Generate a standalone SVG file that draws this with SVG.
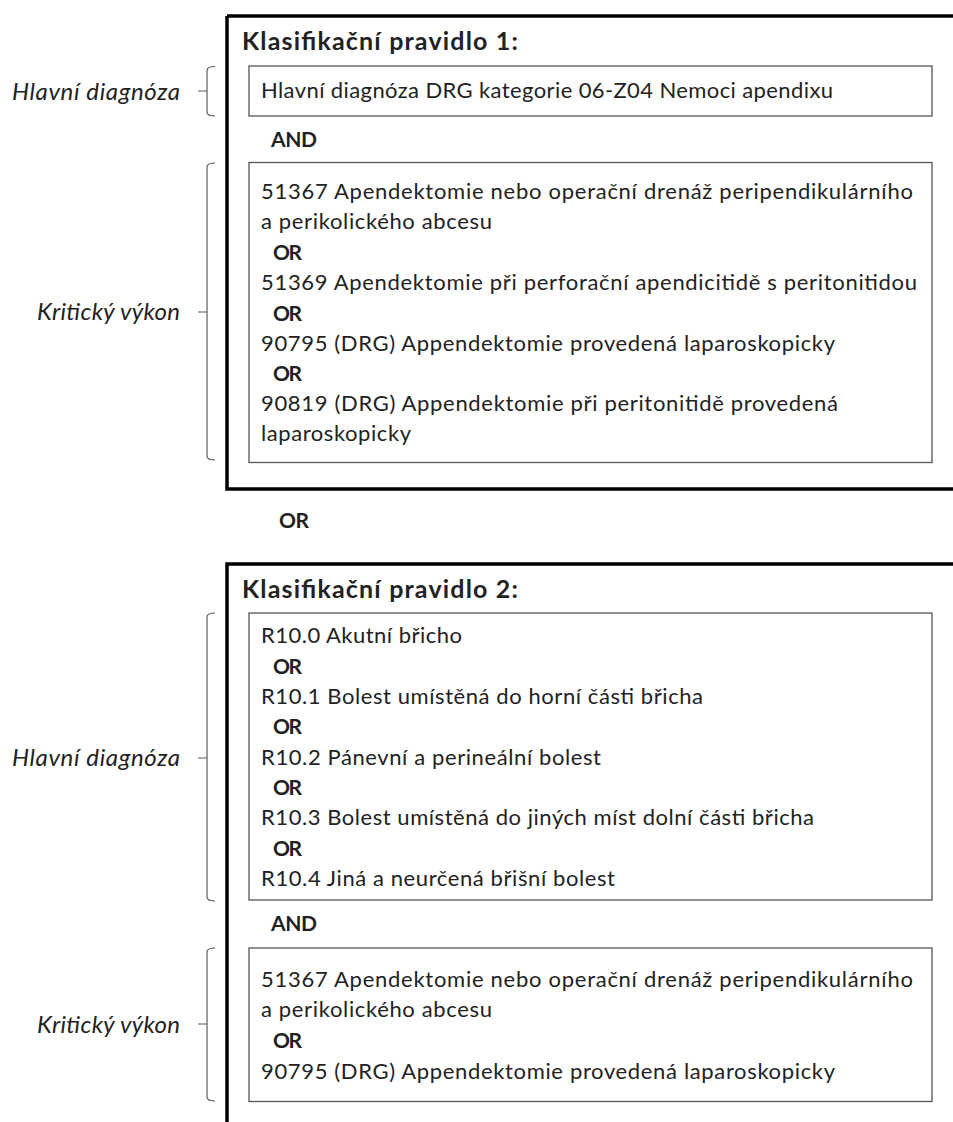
<svg xmlns="http://www.w3.org/2000/svg" width="953" height="1122" viewBox="0 0 953 1122">
<style>
text{font-family:Lato,"Open Sans","Liberation Sans",sans-serif;fill:#222}
.b{font-size:22px}
.op{font-size:21px;font-weight:bold}
.t{font-size:25px;font-weight:bold}
.l{font-size:24px;font-style:italic}
.outer{fill:none;stroke:#000;stroke-width:3.5}
.inner{fill:#fff;stroke:#555;stroke-width:1.3}
.brace{fill:none;stroke:#5a5a5a;stroke-width:1.2}
</style>
<rect width="953" height="1122" fill="#fff"/>
<g id="rule1">
<path class="outer" d="M227,16 H960 M227,16 V489 H960"/>
<text class="t" x="242" y="50" textLength="276">Klasifikační pravidlo 1:</text>
</g>
<g id="rule1-diagnosis">
<rect class="inner" x="249" y="66" width="683" height="50"/>
<text class="b" x="261" y="98" textLength="572">Hlavní diagnóza DRG kategorie 06-Z04 Nemoci apendixu</text>
</g>
<g id="rule1-and"><text class="op" x="271" y="147" textLength="46">AND</text></g>
<g id="rule1-procedure">
<rect class="inner" x="249" y="162.5" width="683" height="300"/>
<text class="b" x="261" y="199" textLength="652">51367 Apendektomie nebo operační drenáž peripendikulárního</text>
<text class="b" x="261" y="229" textLength="231">a perikolického abcesu</text>
<text class="op" x="273" y="260" textLength="29">OR</text>
<text class="b" x="261" y="290" textLength="656">51369 Apendektomie při perforační apendicitidě s peritonitidou</text>
<text class="op" x="273" y="321" textLength="29">OR</text>
<text class="b" x="261" y="351" textLength="574">90795 (DRG) Appendektomie provedená laparoskopicky</text>
<text class="op" x="273" y="381" textLength="29">OR</text>
<text class="b" x="261" y="411" textLength="577">90819 (DRG) Appendektomie při peritonitidě provedená</text>
<text class="b" x="261" y="441" textLength="150">laparoskopicky</text>
</g>
<g id="label-r1-diag"><text class="l" x="12" y="100" textLength="168">Hlavní diagnóza</text></g>
<g id="label-r1-proc"><text class="l" x="37" y="320" textLength="143">Kritický výkon</text></g>
<g id="or-between"><text class="op" x="279" y="528" font-size="22" textLength="30">OR</text></g>
<g id="rule2">
<path class="outer" d="M960,564 H227 V1130"/>
<text class="t" x="242" y="598" textLength="276">Klasifikační pravidlo 2:</text>
</g>
<g id="rule2-diagnosis">
<rect class="inner" x="249" y="613" width="683" height="287"/>
<text class="b" x="261" y="643" textLength="201">R10.0 Akutní břicho</text>
<text class="op" x="273" y="674" textLength="29">OR</text>
<text class="b" x="261" y="704" textLength="442">R10.1 Bolest umístěná do horní části břicha</text>
<text class="op" x="273" y="734" textLength="29">OR</text>
<text class="b" x="261" y="765" textLength="340">R10.2 Pánevní a perineální bolest</text>
<text class="op" x="273" y="795" textLength="29">OR</text>
<text class="b" x="261" y="825" textLength="553">R10.3 Bolest umístěná do jiných míst dolní části břicha</text>
<text class="op" x="273" y="856" textLength="29">OR</text>
<text class="b" x="261" y="886" textLength="354">R10.4 Jiná a neurčená břišní bolest</text>
</g>
<g id="rule2-and"><text class="op" x="271" y="931" textLength="46">AND</text></g>
<g id="rule2-procedure">
<rect class="inner" x="249" y="948" width="683" height="153.5"/>
<text class="b" x="261" y="987" textLength="652">51367 Apendektomie nebo operační drenáž peripendikulárního</text>
<text class="b" x="261" y="1017" textLength="231">a perikolického abcesu</text>
<text class="op" x="273" y="1048" textLength="29">OR</text>
<text class="b" x="261" y="1079" textLength="574">90795 (DRG) Appendektomie provedená laparoskopicky</text>
</g>
<g id="label-r2-diag"><text class="l" x="12" y="766" textLength="168">Hlavní diagnóza</text></g>
<g id="label-r2-proc"><text class="l" x="37" y="1033" textLength="143">Kritický výkon</text></g>
<g id="connectors">
<path class="brace" d="M215,66.5 Q207,66.5 207,70.5 V112 Q207,116 215,116 M198,91 H207"/>
<path class="brace" d="M215,163 Q207,163 207,167 V456 Q207,460 215,460 M198,312 H207"/>
<path class="brace" d="M215,613 Q207,613 207,617 V897 Q207,901 215,901 M198,758 H207"/>
<path class="brace" d="M215,948 Q207,948 207,952 V1097 Q207,1101 215,1101 M198,1024 H207"/>
</g>
</svg>
